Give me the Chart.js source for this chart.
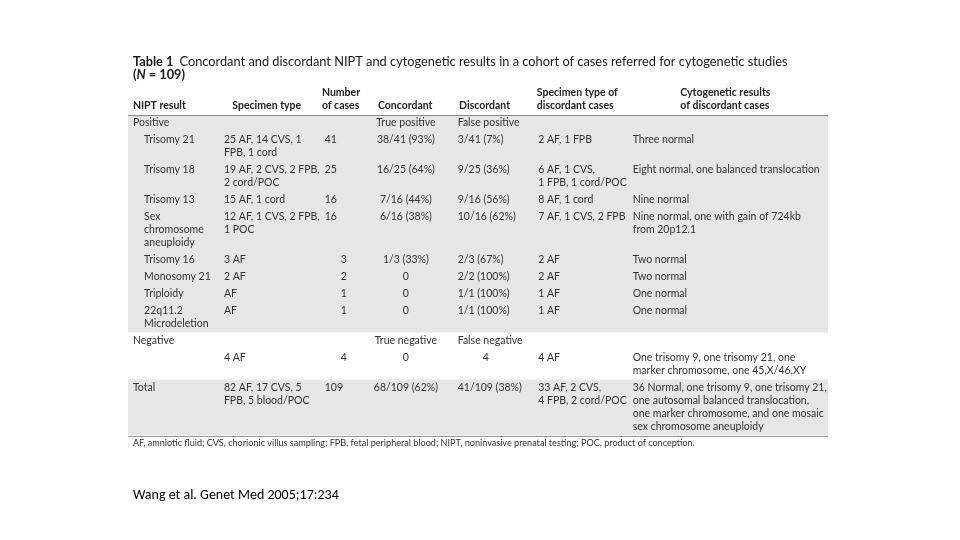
<!DOCTYPE html>
<html>
<head>
<meta charset="utf-8">
<script src="https://cdn.jsdelivr.net/npm/chart.js@4.4.0/dist/chart.umd.min.js"></script>
<style>
  html, body { margin: 0; padding: 0; background: #fff; }
  #wrap { width: 960px; height: 540px; }
</style>
</head>
<body>
<div id="wrap"><canvas id="tableChart" width="960" height="540"></canvas></div>
<script>
// Table 1 content, one array per column (\n = line break as printed)
const niptResults = ['Trisomy 21', 'Trisomy 18', 'Trisomy 13', 'Sex\nchromosome\naneuploidy', 'Trisomy 16', 'Monosomy 21', 'Triploidy', '22q11.2\nMicrodeletion'];
const specimenTypes = ['25 AF, 14 CVS, 1\nFPB, 1 cord', '19 AF, 2 CVS, 2 FPB,\n2 cord/POC', '15 AF, 1 cord', '12 AF, 1 CVS, 2 FPB,\n1 POC', '3 AF', '2 AF', 'AF', 'AF'];
const caseCounts = [41, 25, 16, 16, 3, 2, 1, 1];
const concordant = ['38/41 (93%)', '16/25 (64%)', '7/16 (44%)', '6/16 (38%)', '1/3 (33%)', '0', '0', '0'];
const discordant = ['3/41 (7%)', '9/25 (36%)', '9/16 (56%)', '10/16 (62%)', '2/3 (67%)', '2/2 (100%)', '1/1 (100%)', '1/1 (100%)'];
const discordantSpecimens = ['2 AF, 1 FPB', '6 AF, 1 CVS,\n1 FPB, 1 cord/POC', '8 AF, 1 cord', '7 AF, 1 CVS, 2 FPB', '2 AF', '2 AF', '1 AF', '1 AF'];
const cytogeneticResults = ['Three normal', 'Eight normal, one balanced translocation', 'Nine normal', 'Nine normal, one with gain of 724kb\nfrom 20p12.1', 'Two normal', 'Two normal', 'One normal', 'One normal'];

const positiveLabels = ['Positive', '', '', 'True positive', 'False positive', '', ''];
const negativeLabels = ['Negative', '', '', 'True negative', 'False negative', '', ''];
const negativeRow = ['', '4 AF', 4, '0', '4', '4 AF', 'One trisomy 9, one trisomy 21, one\nmarker chromosome, one 45,X/46,XY'];
const totalRow = ['Total', '82 AF, 17 CVS, 5\nFPB, 5 blood/POC', 109, '68/109 (62%)', '41/109 (38%)', '33 AF, 2 CVS,\n4 FPB, 2 cord/POC', '36 Normal, one trisomy 9, one trisomy 21,\none autosomal balanced translocation,\none marker chromosome, and one mosaic\nsex chromosome aneuploidy'];

const columnHeaders = ['NIPT result', 'Specimen type', 'Number\nof cases', 'Concordant', 'Discordant', 'Specimen type of\ndiscordant cases', 'Cytogenetic results\nof discordant cases'];
const tableTitle = 'Concordant and discordant NIPT and cytogenetic results in a cohort of cases referred for cytogenetic studies';
const footnote = 'AF, amniotic fluid; CVS, chorionic villus sampling; FPB, fetal peripheral blood; NIPT, noninvasive prenatal testing; POC, product of conception.';
const citation = 'Wang et al. Genet Med 2005;17:234';

// layout (x in % of table width, y in px below header rule)
const LH = 13, GAP = 4;
const colX = [0.7, 13.7, 28.1, 39.7, 47.1, 58.6, 72.1];
const colAlign = ['left', 'left', 'left', 'center', 'left', 'left', 'left'];
const headerX = [0.7, 14.9, 27.7, 35.7, 47.3, 58.4, 78.9];
const FONT = 'Lato, "Open Sans", sans-serif';

const rows = [{ cells: positiveLabels, section: 0 }];
niptResults.forEach((r, i) => rows.push({
  cells: [r, specimenTypes[i], caseCounts[i], concordant[i], discordant[i], discordantSpecimens[i], cytogeneticResults[i]],
  indent: true, section: 0
}));
rows.push({ cells: negativeLabels, section: 1 });
rows.push({ cells: negativeRow, section: 1 });
rows.push({ cells: totalRow, section: 2 });

let yPos = 7;
rows.forEach(r => {
  r.lines = Math.max(...r.cells.map(c => String(c).split('\n').length));
  r.y = yPos;
  yPos += r.lines * LH + GAP;
});

function lines(ctx, text, x, y, sy, align) {
  ctx.textAlign = align;
  String(text).split('\n').forEach((t, k) => ctx.fillText(t, x, sy.getPixelForValue(y + k * LH)));
}

const tablePlugin = {
  id: 'tablePlugin',
  beforeDatasetsDraw(chart) {
    const { ctx, scales: { x, y } } = chart;
    const x0 = x.getPixelForValue(0), x1 = x.getPixelForValue(100);
    ctx.save();
    ctx.textBaseline = 'middle';

    // shaded bands: positive section and total row
    ctx.fillStyle = '#e6e6e6';
    [0, 2].forEach(s => {
      const sec = rows.filter(r => r.section === s);
      const first = sec[0], last = sec[sec.length - 1];
      const top = Math.max(y.min, first.y - LH / 2 - GAP / 2);
      const bot = Math.min(y.max, last.y + (last.lines - 1) * LH + LH / 2 + GAP / 2);
      ctx.fillRect(x0, y.getPixelForValue(top), x1 - x0, y.getPixelForValue(bot) - y.getPixelForValue(top));
    });

    // rules
    ctx.fillStyle = '#8a8a8a';
    ctx.fillRect(x0, y.getPixelForValue(0) - 1, x1 - x0, 1);
    ctx.fillStyle = '#9a9a9a';
    ctx.fillRect(x0, y.getPixelForValue(y.max), x1 - x0, 1);

    // title
    ctx.fillStyle = '#1a1a1a';
    ctx.textAlign = 'left';
    ctx.font = 'bold 12.8px ' + FONT;
    const tx = x.getPixelForValue(0.7);
    ctx.fillText('Table 1', tx, y.getPixelForValue(-54));
    const tw = ctx.measureText('Table 1').width + 6;
    ctx.font = '12.8px ' + FONT;
    ctx.fillText(tableTitle, tx + tw, y.getPixelForValue(-54));
    ctx.font = 'bold 12.8px ' + FONT;
    ctx.fillText('(', tx, y.getPixelForValue(-41));
    let w = ctx.measureText('(').width;
    ctx.font = 'italic bold 12.8px ' + FONT;
    ctx.fillText('N', tx + w, y.getPixelForValue(-41));
    w += ctx.measureText('N').width;
    ctx.font = 'bold 12.8px ' + FONT;
    ctx.fillText(' = 109)', tx + w, y.getPixelForValue(-41));

    // column headers (bottom aligned)
    ctx.font = 'bold 10.5px ' + FONT;
    ctx.fillStyle = '#222';
    columnHeaders.forEach((h, i) => {
      const n = h.split('\n').length;
      lines(ctx, h, x.getPixelForValue(headerX[i]), -10 - (n - 1) * LH, y, 'left');
    });

    // body cells
    ctx.font = '10.5px ' + FONT;
    ctx.fillStyle = '#333';
    rows.forEach(r => {
      r.cells.forEach((c, i) => {
        if (c === '') return;
        let cx = colX[i], al = colAlign[i];
        if (i === 0 && r.indent) cx = 2.3;
        if (i === 2 && String(c).length === 1) cx = 30.4;
        if (i === 4 && String(c).indexOf('/') < 0 && !/False/.test(c)) { cx = 51.1; al = 'center'; }
        lines(ctx, c, x.getPixelForValue(cx), r.y, y, al);
      });
    });

    // footnote and source
    ctx.textAlign = 'left';
    ctx.font = '9.1px ' + FONT;
    ctx.fillStyle = '#333';
    ctx.fillText(footnote, tx, y.getPixelForValue(327));
    ctx.font = '14px Carlito, "Liberation Sans", Arial, sans-serif';
    ctx.fillStyle = '#000';
    ctx.fillText(citation, tx, y.getPixelForValue(379));
    ctx.restore();
  }
};

new Chart(document.getElementById('tableChart').getContext('2d'), {
  type: 'scatter',
  data: { datasets: [] },
  options: {
    responsive: false,
    animation: false,
    layout: { padding: { left: 128, right: 132, top: 116, bottom: 104 } },
    plugins: { legend: { display: false }, tooltip: { enabled: false } },
    scales: {
      x: { type: 'linear', min: 0, max: 100, display: false },
      y: { type: 'linear', min: 0, max: 320, reverse: true, display: false }
    }
  },
  plugins: [tablePlugin]
});
</script>
</body>
</html>
